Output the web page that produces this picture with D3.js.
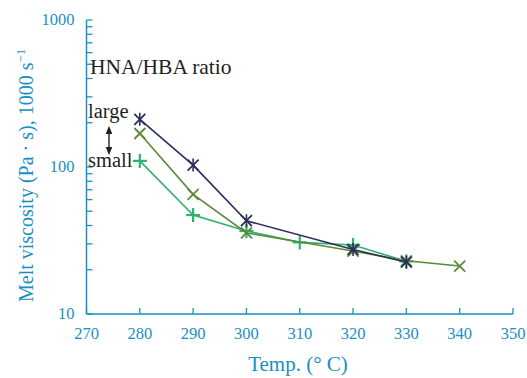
<!DOCTYPE html>
<html><head><meta charset="utf-8">
<script src="https://cdn.jsdelivr.net/npm/d3@7"></script>
<style>
html,body{margin:0;padding:0;background:#fff;}
svg{display:block;}
text{font-family:"Liberation Serif","Times New Roman",serif;}
</style></head>
<body>
<svg id="c" width="527" height="378"></svg>
<script>
const temps = [270, 280, 290, 300, 310, 320, 330, 340, 350];
const yTickValues = [10, 100, 1000];
const largeTemps = [280, 290, 300, 320, 330];
const largeVals = [211, 103, 43.1, 27.5, 22.5];
const midTemps = [280, 290, 300, 320, 330, 340];
const midVals = [169, 65.2, 35.6, 26.8, 23.0, 21.2];
const smallTemps = [280, 290, 300, 310, 320, 330];
const smallVals = [110, 47.1, 36.7, 30.7, 29.5, 22.8];

const axisColor = "#1a8fc4";
const svg = d3.select("#c");
const x = d3.scaleLinear().domain([270, 350]).range([86.5, 513]);
const y = d3.scaleLog().domain([10, 1000]).range([314, 20]);

const ax = svg.append("g");
ax.append("line").attr("x1", x(270)).attr("x2", x(350)).attr("y1", y(10)).attr("y2", y(10))
  .attr("stroke", axisColor).attr("stroke-width", 1.5);
ax.append("line").attr("x1", x(270)).attr("x2", x(270)).attr("y1", y(10)).attr("y2", y(1000))
  .attr("stroke", axisColor).attr("stroke-width", 1.5);

ax.selectAll(".xt").data(temps).enter().append("line")
  .attr("x1", d => x(d)).attr("x2", d => x(d)).attr("y1", y(10)).attr("y2", y(10) - 6)
  .attr("stroke", axisColor).attr("stroke-width", 1.3);
ax.selectAll(".xl").data(temps).enter().append("text")
  .attr("x", d => x(d)).attr("y", y(10) + 25).attr("text-anchor", "middle")
  .attr("font-size", 16.5).attr("fill", axisColor).text(d => d);

const yTicks = [];
for (let dec = 10; dec < 1000; dec *= 10) for (let k = 1; k < 10; k++) yTicks.push(dec * k);
yTicks.push(1000);
ax.selectAll(".yt").data(yTicks).enter().append("line")
  .attr("x1", x(270)).attr("x2", x(270) + 6).attr("y1", d => y(d)).attr("y2", d => y(d))
  .attr("stroke", axisColor).attr("stroke-width", 1.3);
ax.selectAll(".yl").data(yTickValues).enter().append("text")
  .attr("x", x(270) - 12).attr("y", d => y(d) + 5).attr("text-anchor", "end")
  .attr("font-size", 16.5).attr("fill", axisColor).text(d => d);

svg.append("text").attr("x", 298).attr("y", 371).attr("text-anchor", "middle")
  .attr("font-size", 21).attr("fill", axisColor).text("Temp. (° C)");
const yt = svg.append("text").attr("transform", "translate(33,302) rotate(-90)")
  .attr("text-anchor", "start").attr("font-size", 20).attr("fill", axisColor);
yt.append("tspan").text("Melt viscosity (Pa · s), 1000 s");
yt.append("tspan").attr("dy", -8).attr("font-size", 13).text("−1");

function series(ts, vs, color, marker) {
  const data = ts.map((t, i) => [t, vs[i]]);
  const g = svg.append("g");
  g.append("path").datum(data)
    .attr("d", d3.line().x(d => x(d[0])).y(d => y(d[1])))
    .attr("fill", "none").attr("stroke", color).attr("stroke-width", 1.6);
  const s = 5.5;
  const m = g.selectAll(".m").data(data).enter().append("g")
    .attr("transform", d => `translate(${x(d[0])},${y(d[1])})`);
  if (marker === "x" || marker === "star") {
    m.append("line").attr("x1", -s).attr("y1", -s).attr("x2", s).attr("y2", s).attr("stroke", color).attr("stroke-width", 1.8);
    m.append("line").attr("x1", -s).attr("y1", s).attr("x2", s).attr("y2", -s).attr("stroke", color).attr("stroke-width", 1.8);
  }
  if (marker === "star") {
    m.append("line").attr("x1", 0).attr("y1", -s - 1).attr("x2", 0).attr("y2", s + 1).attr("stroke", color).attr("stroke-width", 1.6);
  }
  if (marker === "plus") {
    m.append("line").attr("x1", -s - 1.5).attr("y1", 0).attr("x2", s + 1.5).attr("y2", 0).attr("stroke", color).attr("stroke-width", 2.2);
    m.append("line").attr("x1", 0).attr("y1", -s - 1.5).attr("x2", 0).attr("y2", s + 1.5).attr("stroke", color).attr("stroke-width", 2.2);
  }
}
series(smallTemps, smallVals, "#2db36c", "plus");
series(midTemps, midVals, "#5b8a3a", "x");
series(largeTemps, largeVals, "#2b2e5c", "star");

svg.append("text").attr("x", 90).attr("y", 74).attr("font-size", 21.5).attr("fill", "#231f20").text("HNA/HBA ratio");
svg.append("text").attr("x", 88).attr("y", 118).attr("font-size", 20.5).attr("fill", "#231f20").text("large");
svg.append("text").attr("x", 88).attr("y", 167).attr("font-size", 20.5).attr("fill", "#231f20").text("small");
const defs = svg.append("defs");
defs.append("marker").attr("id", "ah").attr("viewBox", "0 0 10 10").attr("refX", 5).attr("refY", 5)
  .attr("markerWidth", 6).attr("markerHeight", 6).attr("orient", "auto-start-reverse")
  .append("path").attr("d", "M0,1 L10,5 L0,9 z").attr("fill", "#231f20");
svg.append("line").attr("x1", 109).attr("x2", 109).attr("y1", 130).attr("y2", 151)
  .attr("stroke", "#231f20").attr("stroke-width", 1.4)
  .attr("marker-start", "url(#ah)").attr("marker-end", "url(#ah)");
</script>
</body></html>
